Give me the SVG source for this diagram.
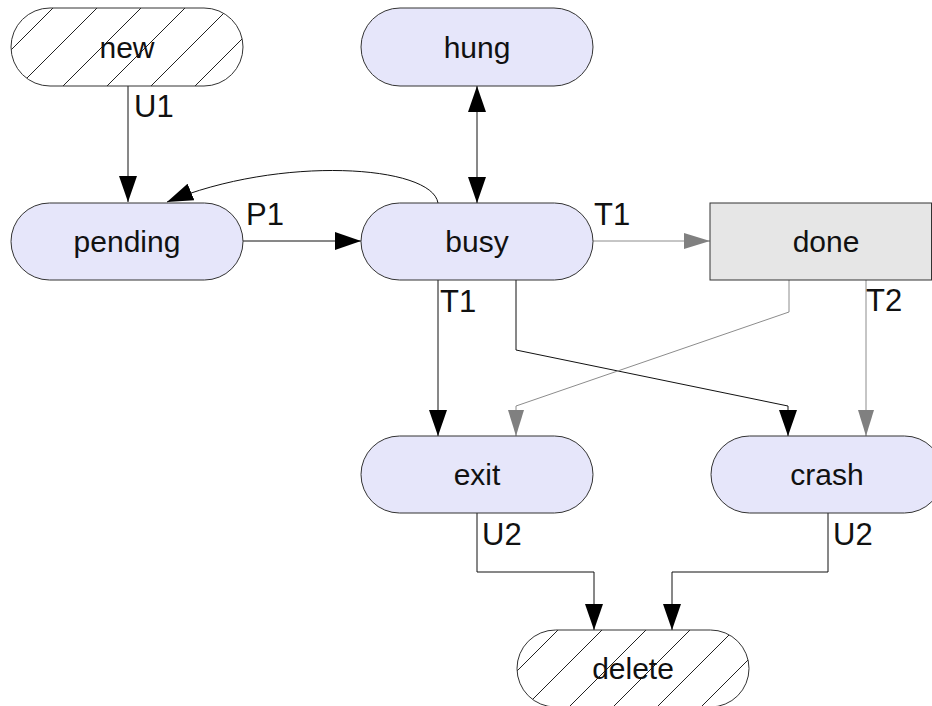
<svg xmlns="http://www.w3.org/2000/svg" width="932" height="706" viewBox="0 0 932 706">
<defs>
<style>
.node{fill:#e6e6fa;stroke:#333;stroke-width:1}
.hatch{stroke:#333;stroke-width:1}
.lbl{font-family:"Liberation Sans",Arial,sans-serif;font-size:30px;fill:#111;text-anchor:middle}
.elbl{font-family:"Liberation Sans",Arial,sans-serif;font-size:31px;fill:#111}
.e{fill:none;stroke:#111;stroke-width:1}
.g{fill:none;stroke:#8c8c8c;stroke-width:1}
</style>
<marker id="ab" markerUnits="userSpaceOnUse" markerWidth="26" markerHeight="18" refX="26" refY="9" orient="auto-start-reverse" viewBox="0 0 26 18">
<path d="M0,0 L26,9 L0,18 z" fill="#000"/>
</marker>
<marker id="ag" markerUnits="userSpaceOnUse" markerWidth="26" markerHeight="16" refX="26" refY="8" orient="auto" viewBox="0 0 26 16">
<path d="M0,0 L26,8 L0,16 z" fill="#808080"/>
</marker>
<pattern id="h1" patternUnits="userSpaceOnUse" x="17" y="0" width="44" height="44">
<rect width="44" height="44" fill="#fff"/>
<path d="M-11,11 L11,-11 M0,44 L44,0 M33,55 L55,33" stroke="#222" stroke-width="1"/>
</pattern>
<pattern id="h2" patternUnits="userSpaceOnUse" x="0" y="0" width="44" height="44">
<rect width="44" height="44" fill="#fff"/>
<path d="M-11,11 L11,-11 M0,44 L44,0 M33,55 L55,33" stroke="#222" stroke-width="1"/>
</pattern>
</defs>
<rect width="932" height="706" fill="#fff"/>

<g id="connectors">
<path class="e" d="M128,86 V202" marker-end="url(#ab)"/>
<text class="elbl" x="134" y="117">U1</text>
<path class="e" d="M438,203 C432,165 280,155 167,202" marker-end="url(#ab)"/>
<path class="e" d="M243,241 H361" marker-end="url(#ab)"/>
<text class="elbl" x="246" y="225">P1</text>
<path class="e" d="M477,86 V203" marker-start="url(#ab)" marker-end="url(#ab)"/>
<path class="g" d="M593,241 H710" marker-end="url(#ag)"/>
<text class="elbl" x="594" y="225">T1</text>
<path class="e" d="M438,280 V436" marker-end="url(#ab)"/>
<text class="elbl" x="440" y="312">T1</text>
<path class="e" d="M516,280 V350 L788,406 V436" marker-end="url(#ab)"/>
<path class="g" d="M789,280 V312 L516,406 V436" marker-end="url(#ag)"/>
<path class="g" d="M866,280 V436" marker-end="url(#ag)"/>
<text class="elbl" x="866" y="311">T2</text>
<path class="e" d="M477,513 V572 H594 V630" marker-end="url(#ab)"/>
<text class="elbl" x="482" y="545">U2</text>
<path class="e" d="M828,513 V572 H672 V630" marker-end="url(#ab)"/>
<text class="elbl" x="833" y="545">U2</text>
</g>

<g id="new">
<rect x="11" y="8" width="232" height="78" rx="39" ry="39" fill="url(#h1)" class="hatch"/>
<text class="lbl" x="127" y="58">new</text>
</g>
<g id="hung">
<rect class="node" x="361" y="8" width="232" height="78" rx="39" ry="39"/>
<text class="lbl" x="477" y="58">hung</text>
</g>
<g id="pending">
<rect class="node" x="11" y="203" width="232" height="77" rx="38.5" ry="38.5"/>
<text class="lbl" x="127" y="252">pending</text>
</g>
<g id="busy">
<rect class="node" x="361" y="203" width="232" height="77" rx="38.5" ry="38.5"/>
<text class="lbl" x="477" y="252">busy</text>
</g>
<g id="done">
<rect x="710" y="203" width="221.5" height="77" fill="#e6e6e6" stroke="#333" stroke-width="1"/>
<text class="lbl" x="826" y="252">done</text>
</g>
<g id="exit">
<rect class="node" x="361" y="436" width="232" height="77" rx="38.5" ry="38.5"/>
<text class="lbl" x="477" y="485">exit</text>
</g>
<g id="crash">
<rect class="node" x="711" y="436" width="232" height="77" rx="38.5" ry="38.5"/>
<text class="lbl" x="827" y="485">crash</text>
</g>
<g id="delete">
<rect x="517" y="630" width="232" height="77" rx="38.5" ry="38.5" fill="url(#h2)" class="hatch"/>
<text class="lbl" x="633" y="679">delete</text>
</g>
</svg>
